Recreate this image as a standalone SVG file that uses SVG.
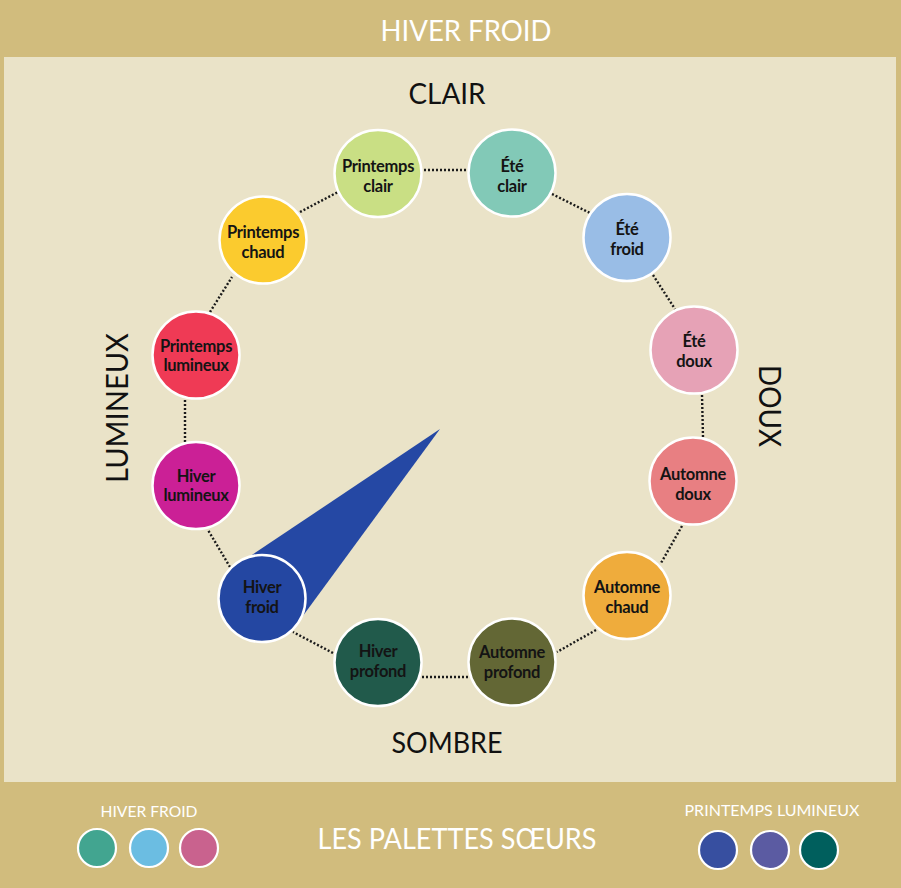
<svg xmlns="http://www.w3.org/2000/svg" width="901" height="888" viewBox="0 0 901 888">
<style>
.node circle { stroke:#ffffff; stroke-width:2.5; }
.lbl { font-family:Lato, "Open Sans", sans-serif; font-weight:700; font-size:16.5px; fill:#141414; text-anchor:middle; letter-spacing:-0.3px; }
.conn line { stroke:#1a1a1a; stroke-width:2.4; stroke-dasharray:2 2; fill:none; }
.ttl { font-family:Lato, "Liberation Sans", sans-serif; text-anchor:middle; }
.white { fill:#ffffff; }
.dark { fill:#111111; }
.sw circle { stroke:#ffffff; stroke-width:2.2; }
</style>
<rect x="0" y="0" width="901" height="888" fill="#d1bc7d"/>
<rect x="4" y="57" width="892" height="725" fill="#eae3c8"/>

<text class="ttl white" x="466" y="41" font-size="29" textLength="171" lengthAdjust="spacingAndGlyphs">HIVER FROID</text>
<text class="ttl dark" x="447" y="104" font-size="29" textLength="77" lengthAdjust="spacingAndGlyphs">CLAIR</text>
<text class="ttl dark" x="447" y="753" font-size="28" textLength="111" lengthAdjust="spacingAndGlyphs">SOMBRE</text>
<text class="ttl dark" transform="translate(128,408) rotate(-90)" x="0" y="0" font-size="30" textLength="150" lengthAdjust="spacingAndGlyphs">LUMINEUX</text>
<text class="ttl dark" transform="translate(759,406) rotate(90)" x="0" y="0" font-size="30" textLength="82" lengthAdjust="spacingAndGlyphs">DOUX</text>

<polygon id="pointer" points="440,429 237,565 297,624" fill="#2548a4"/>

<g id="connectors" class="conn">
<line x1="424" y1="170" x2="466" y2="170"/>
<line x1="552" y1="194" x2="590" y2="213"/>
<line x1="653" y1="275" x2="675" y2="309"/>
<line x1="702" y1="395" x2="703" y2="437"/>
<line x1="682" y1="526" x2="661" y2="563"/>
<line x1="596" y1="630" x2="557" y2="652"/>
<line x1="468" y1="677" x2="422" y2="677"/>
<line x1="333" y1="653" x2="293" y2="632"/>
<line x1="230" y1="567" x2="208" y2="530"/>
<line x1="185" y1="442" x2="185" y2="400"/>
<line x1="210" y1="312" x2="232" y2="277"/>
<line x1="300" y1="212" x2="338" y2="192"/>
</g>

<g id="printemps-clair" class="node"><circle cx="378" cy="173.5" r="43.5" fill="#c9df84"/><text class="lbl" x="378" y="171.5">Printemps</text><text class="lbl" x="378" y="191.5">clair</text></g>
<g id="ete-clair" class="node"><circle cx="512" cy="173" r="43.5" fill="#82c9b7"/><text class="lbl" x="512" y="172">Été</text><text class="lbl" x="512" y="192">clair</text></g>
<g id="ete-froid" class="node"><circle cx="627" cy="237.5" r="43.5" fill="#99bde6"/><text class="lbl" x="627" y="235">Été</text><text class="lbl" x="627" y="255">froid</text></g>
<g id="ete-doux" class="node"><circle cx="694" cy="350" r="43.5" fill="#e6a2b6"/><text class="lbl" x="694" y="347">Été</text><text class="lbl" x="694" y="367">doux</text></g>
<g id="automne-doux" class="node"><circle cx="693" cy="481" r="43.5" fill="#e87f82"/><text class="lbl" x="693" y="480">Automne</text><text class="lbl" x="693" y="500">doux</text></g>
<g id="automne-chaud" class="node"><circle cx="627" cy="595.5" r="43.5" fill="#efac3c"/><text class="lbl" x="627" y="593">Automne</text><text class="lbl" x="627" y="613">chaud</text></g>
<g id="automne-profond" class="node"><circle cx="512" cy="662" r="43.5" fill="#636735"/><text class="lbl" x="512" y="658">Automne</text><text class="lbl" x="512" y="678">profond</text></g>
<g id="hiver-profond" class="node"><circle cx="378" cy="662.5" r="43.5" fill="#215a4b"/><text class="lbl" x="378" y="657">Hiver</text><text class="lbl" x="378" y="677">profond</text></g>
<g id="hiver-froid" class="node"><circle cx="262" cy="598.5" r="43.5" fill="#2447a2"/><text class="lbl" x="262" y="593">Hiver</text><text class="lbl" x="262" y="613">froid</text></g>
<g id="hiver-lumineux" class="node"><circle cx="196" cy="485.5" r="43.5" fill="#cb2096"/><text class="lbl" x="196" y="482">Hiver</text><text class="lbl" x="196" y="501">lumineux</text></g>
<g id="printemps-lumineux" class="node"><circle cx="196" cy="355" r="43.5" fill="#ef3a55"/><text class="lbl" x="196" y="352">Printemps</text><text class="lbl" x="196" y="371">lumineux</text></g>
<g id="printemps-chaud" class="node"><circle cx="263" cy="240" r="43.5" fill="#fbcb2e"/><text class="lbl" x="263" y="238">Printemps</text><text class="lbl" x="263" y="258">chaud</text></g>

<text class="ttl white" x="149" y="817" font-size="15" textLength="97" lengthAdjust="spacingAndGlyphs">HIVER FROID</text>
<text class="ttl white" x="772" y="816" font-size="15" textLength="175" lengthAdjust="spacingAndGlyphs">PRINTEMPS LUMINEUX</text>
<text class="ttl white" x="457" y="849" font-size="29" textLength="279" lengthAdjust="spacingAndGlyphs">LES PALETTES SŒURS</text>

<g id="swatches-hiver-froid" class="sw">
<circle cx="97" cy="848" r="19" fill="#42a590"/>
<circle cx="149" cy="848" r="19" fill="#6bbde2"/>
<circle cx="199" cy="848" r="19" fill="#c9628e"/>
</g>
<g id="swatches-printemps-lumineux" class="sw">
<circle cx="718" cy="850" r="19" fill="#374fa0"/>
<circle cx="770" cy="850" r="19" fill="#5b5ba2"/>
<circle cx="819" cy="850" r="19" fill="#005f5d"/>
</g>
</svg>
